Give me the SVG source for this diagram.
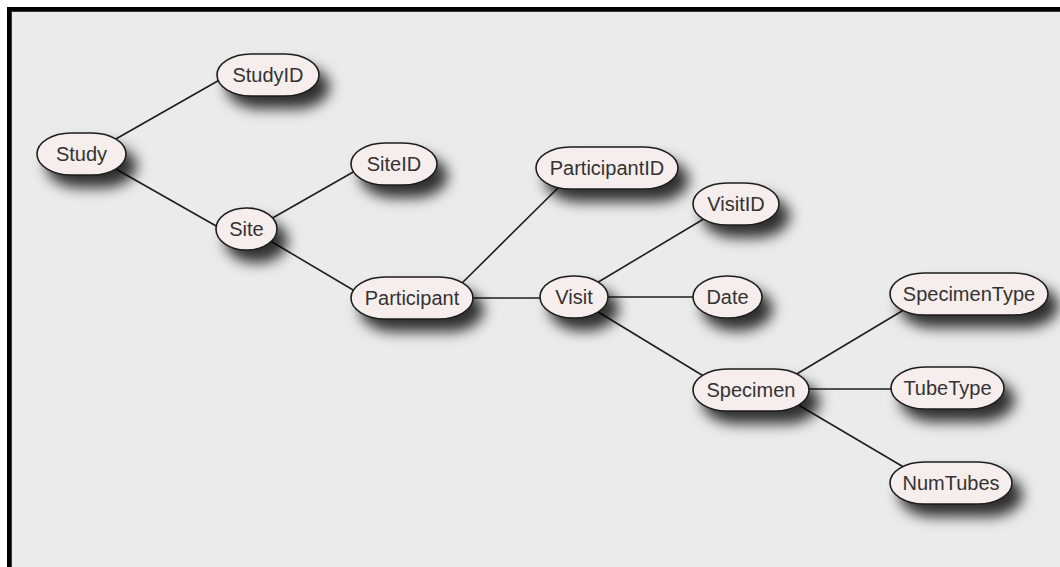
<svg xmlns="http://www.w3.org/2000/svg" width="1060" height="567" viewBox="0 0 1060 567">
<defs>
<filter id="sh" x="-40%" y="-80%" width="190%" height="300%">
<feDropShadow dx="10" dy="12" stdDeviation="7" flood-color="#000" flood-opacity="0.8"/>
</filter>
</defs>
<style>
.n rect{fill:#f6eded;stroke:#1e1e1e;stroke-width:1.6;filter:url(#sh)}
.n text{font-family:"Liberation Sans",Arial,sans-serif;font-size:20px;fill:#333;text-anchor:middle;dominant-baseline:central}
#edges line{stroke:#1e1e1e;stroke-width:1.6}
</style>
<rect x="0" y="0" width="1060" height="567" fill="#ffffff"/>
<rect x="7" y="7" width="1053" height="560" fill="#000"/>
<rect x="11" y="11" width="1049" height="556" fill="#3a3a3a"/>
<rect x="12" y="12" width="1048" height="555" fill="#ebebeb"/>
<g id="edges">
<line x1="100" y1="148" x2="230" y2="74"/>
<line x1="100" y1="160" x2="232" y2="235"/>
<line x1="262" y1="224" x2="362" y2="167"/>
<line x1="262" y1="236" x2="370" y2="300"/>
<line x1="455" y1="290" x2="566" y2="180"/>
<line x1="470" y1="298" x2="545" y2="298"/>
<line x1="590" y1="287" x2="712" y2="214"/>
<line x1="600" y1="297" x2="700" y2="297"/>
<line x1="590" y1="307" x2="715" y2="383"/>
<line x1="790" y1="378" x2="912" y2="305"/>
<line x1="800" y1="389" x2="900" y2="389"/>
<line x1="790" y1="400" x2="912" y2="472"/>
</g>
<g id="StudyID" class="n"><rect x="217" y="54" width="102" height="42" rx="34" ry="21"/><text x="268" y="75">StudyID</text></g>
<g id="Study" class="n"><rect x="37" y="133" width="89" height="42" rx="34" ry="21"/><text x="81.5" y="154">Study</text></g>
<g id="Site" class="n"><rect x="216" y="208" width="61" height="42" rx="30" ry="21"/><text x="246.5" y="229">Site</text></g>
<g id="SiteID" class="n"><rect x="351" y="143" width="86" height="42" rx="34" ry="21"/><text x="394" y="164">SiteID</text></g>
<g id="Participant" class="n"><rect x="351" y="277" width="122" height="42" rx="34" ry="21"/><text x="412" y="298">Participant</text></g>
<g id="ParticipantID" class="n"><rect x="536" y="147" width="142" height="42" rx="34" ry="21"/><text x="607" y="168">ParticipantID</text></g>
<g id="Visit" class="n"><rect x="540" y="276" width="68" height="42" rx="33" ry="21"/><text x="574" y="297">Visit</text></g>
<g id="VisitID" class="n"><rect x="693" y="183" width="86" height="42" rx="34" ry="21"/><text x="736" y="204">VisitID</text></g>
<g id="Date" class="n"><rect x="693" y="276" width="69" height="42" rx="34" ry="21"/><text x="727.5" y="297">Date</text></g>
<g id="Specimen" class="n"><rect x="693" y="369" width="116" height="42" rx="34" ry="21"/><text x="751" y="390">Specimen</text></g>
<g id="SpecimenType" class="n"><rect x="890" y="273" width="158" height="42" rx="34" ry="21"/><text x="969" y="294">SpecimenType</text></g>
<g id="TubeType" class="n"><rect x="891" y="367" width="113" height="42" rx="34" ry="21"/><text x="947.5" y="388">TubeType</text></g>
<g id="NumTubes" class="n"><rect x="890" y="462" width="122" height="42" rx="34" ry="21"/><text x="951" y="483">NumTubes</text></g>
</svg>
